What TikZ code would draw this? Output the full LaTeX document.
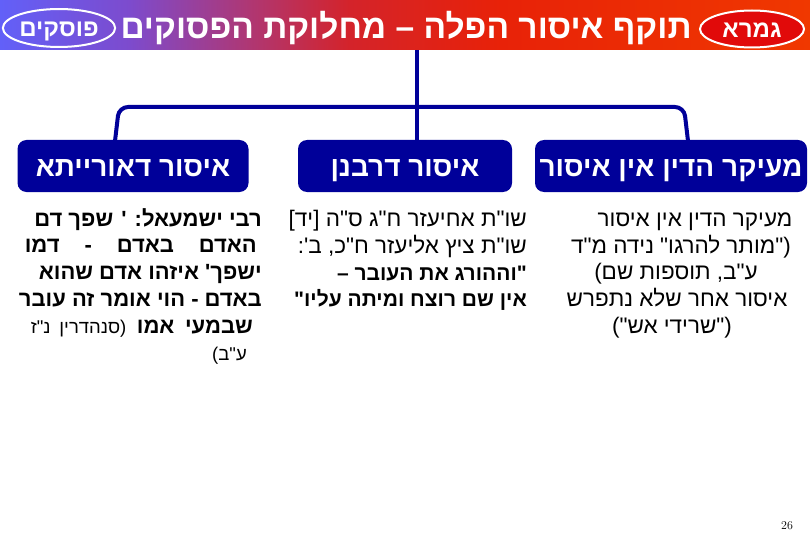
\documentclass[tikz,border=0pt]{standalone}
\usepackage{fontspec}
\newfontfamily\heb[Script=Hebrew]{Liberation Sans}
\TeXXeTstate=1
\usetikzlibrary{shapes.geometric}
\definecolor{navy}{RGB}{0,0,153}
\definecolor{gc0}{RGB}{98,96,248}
\definecolor{gc1}{RGB}{125,75,205}
\definecolor{gc2}{RGB}{175,55,115}
\definecolor{gc3}{RGB}{212,35,42}
\definecolor{gc4}{RGB}{232,34,8}
\definecolor{gc5}{RGB}{240,56,0}
\definecolor{gemred}{RGB}{225,10,10}
\pgfdeclarehorizontalshading{barshade}{100bp}{color(0bp)=(gc0); color(25bp)=(gc0); color(33bp)=(gc1); color(40.4bp)=(gc2); color(46.6bp)=(gc3); color(55.9bp)=(gc4); color(75bp)=(gc5); color(100bp)=(gc5)}
\tikzset{
  headbox/.style={draw=none, fill=navy, rounded corners=9pt, minimum height=52pt, inner sep=0pt, text height=20pt, text depth=0pt, text=white, font=\heb\bfseries\fontsize{28}{32}\selectfont},
  conn/.style={draw=navy, line width=4pt, rounded corners=9pt},
  bodyb/.style={anchor=east, inner sep=0pt, text height=16pt, text depth=0pt, font=\heb\bfseries\fontsize{22}{26}\selectfont},
  bodym/.style={anchor=east, inner sep=0pt, text height=16pt, text depth=0pt, font=\heb\bfseries\fontsize{21}{25}\selectfont},
  bodyr/.style={anchor=east, inner sep=0pt, text height=16pt, text depth=0pt, font=\heb\fontsize{22.5}{26}\selectfont},
  bodyc/.style={anchor=center, inner sep=0pt, text height=16pt, text depth=0pt, font=\heb\fontsize{22.5}{26}\selectfont},
  oval/.style={ellipse, draw=white, line width=2pt, inner sep=0pt, text height=17pt, text depth=0pt, text=white, font=\heb\bfseries\fontsize{24}{28}\selectfont}
}
\begin{document}
\begin{tikzpicture}[x=1pt,y=-1pt]
\useasboundingbox (0,0) rectangle (810,540);
\fill[white] (0,0) rectangle (810,540);
% top bar
\shade[shading=barshade] (0,0) rectangle (810,50);
\node[oval, minimum width=107pt, minimum height=38pt] (posk) at (59,28) {\beginR פוסקים\endR};
\node[oval, fill=gemred, minimum width=104pt, minimum height=37pt] (gem) at (752,29) {\beginR גמרא\endR};
\node[text=white, font=\heb\bfseries\fontsize{33.5}{38}\selectfont, inner sep=0pt, text height=24pt, text depth=0pt] (title) at (406,27) {\beginR תוקף איסור הפלה – מחלוקת הפסוקים\endR};
% boxes
\node[headbox, minimum width=231pt] (b1) at (133,166) {\beginR איסור דאורייתא\endR};
\node[headbox, minimum width=214pt] (b2) at (405,166) {\beginR איסור דרבנן\endR};
\node[headbox, minimum width=272pt] (b3) at (671,166) {\beginR מעיקר הדין אין איסור\endR};
% connectors
\coordinate (top) at (417,50);
\coordinate (legL) at (115,141);
\coordinate (legR) at (688,141);
\draw[conn] (top) -- (top |- b2.north);
\draw[conn] (legL) -- (119,107) -- (684,107) -- (legR);
% left column
\node[bodyb] (l1) at (262,218) {\beginR רבי ישמעאל: ' שפך דם\endR};
\node[bodyb] (l2) at (257,244) {\spaceskip=0.28em plus 1fil\hbox to 232pt{\beginR האדם באדם - דמו\endR}};
\node[bodyb] (l3) at (262,271) {\beginR ישפך' איזהו אדם שהוא\endR};
\node[bodyb] (l4) at (262,298) {\beginR באדם - הוי אומר זה עובר\endR};
\node[bodyb] (l5) at (253,325) {\hbox to 222pt{\beginR שבמעי אמו {\mdseries\fontsize{18.5}{22}\selectfont(סנהדרין נ"ז}\endR}};
\node[bodyr, font=\heb\fontsize{18.5}{22}\selectfont] (l6) at (247,352) {\beginR ע"ב)\endR};
% middle column
\node[bodyr] (m1) at (527,218) {\beginR שו"ת אחיעזר ח"ג ס"ה [יד]\endR};
\node[bodyr] (m2) at (527,245) {\beginR שו"ת ציץ אליעזר ח"כ, ב':\endR};
\node[bodym] (m3) at (527,272) {\beginR "וההורג את העובר –\endR};
\node[bodym] (m4) at (527,298) {\beginR אין שם רוצח ומיתה עליו"\endR};
% right column
\node[bodyc] (r1) at (695,218) {\beginR מעיקר הדין אין איסור\endR};
\node[bodyc] (r2) at (681,245) {\beginR ("מותר להרגו" נידה מ"ד\endR};
\node[bodyc] (r3) at (676,271) {\beginR ע"ב, תוספות שם)\endR};
\node[bodyc] (r4) at (677,298) {\beginR איסור אחר שלא נתפרש\endR};
\node[bodyc] (r5) at (672,325) {\beginR ("שרידי אש")\endR};
% page number
\node[font=\rmfamily\fontsize{12}{14}\selectfont, inner sep=0pt] (pn) at (787,526) {26};
\end{tikzpicture}
\end{document}
